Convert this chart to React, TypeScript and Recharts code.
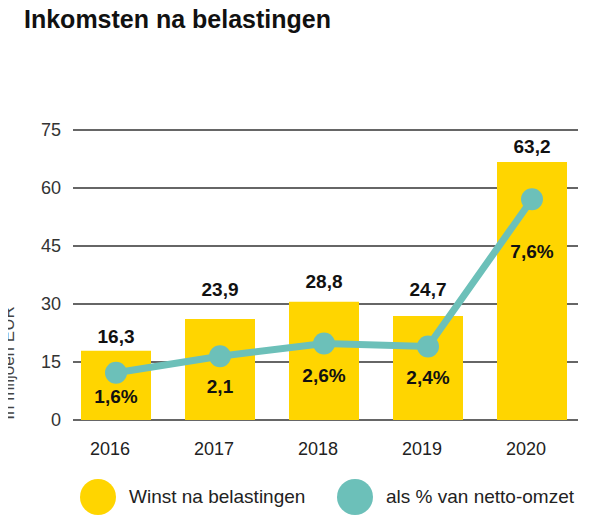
import { ComposedChart, Bar, Line, XAxis, YAxis, CartesianGrid, Legend, LabelList } from 'recharts'

const years = ['2016', '2017', '2018', '2019', '2020']
// bar heights as drawn in the picture (mln EUR)
const winst = [17.9, 26.1, 30.6, 26.9, 66.7]
const winstLabels = ['16,3', '23,9', '28,8', '24,7', '63,2']
// line points as drawn, on the same axis
const aandeel = [12.2, 16.5, 19.8, 19.0, 57.1]
const aandeelLabels = ['1,6%', '2,1', '2,6%', '2,4%', '7,6%']
const yTicks = [0, 15, 30, 45, 60, 75]

const data = years.map((year, i) => ({
  year,
  winst: winst[i],
  winstLabel: winstLabels[i],
  aandeel: aandeel[i],
  aandeelLabel: aandeelLabels[i],
}))

const YELLOW = '#FFD500'
const TEAL = '#6CC0B9'
const FONT = '"Liberation Sans", Arial, sans-serif'

// label spacing in px, per bar / point
const barLabelGap = [8, 23, 14, 20, 9]
const pctLabelGap = [30, 37, 39, 37, 59]

const legendLeft = [80, 337]

function BarValueLabel(props: any) {
  const { x, y, width, value, index } = props
  return (
    <text x={x + width / 2} y={y - barLabelGap[index ?? 0]} textAnchor="middle"
      fontFamily={FONT} fontSize={19} fontWeight="bold" fill="#111">
      {value}
    </text>
  )
}

function PctLabel(props: any) {
  const { x, y, value, index } = props
  return (
    <text x={x} y={y + pctLabelGap[index ?? 0]} textAnchor="middle"
      fontFamily={FONT} fontSize={19} fontWeight="bold" fill="#111">
      {value}
    </text>
  )
}

function AxisTitle(props: any) {
  const { viewBox } = props
  const x = viewBox.x + 14
  const y = viewBox.y + 233
  return (
    <text x={x} y={y} transform={`rotate(-90 ${x} ${y})`} textAnchor="middle"
      fontFamily={FONT} fontSize={17} fill="#444">
      In miljoen EUR
    </text>
  )
}

function LegendContent(props: any) {
  const { payload } = props
  return (
    <div style={{ position: 'relative', width: 598, height: 36 }}>
      {(payload || []).map((p: any, i: number) => (
        <div key={p.value} style={{ position: 'absolute', left: legendLeft[i], top: 0, display: 'flex', alignItems: 'center', height: 36 }}>
          <span style={{ width: 36, height: 36, borderRadius: 18, background: p.color, display: 'inline-block' }} />
          <span style={{ marginLeft: 13, fontFamily: FONT, fontSize: 19, color: '#222', whiteSpace: 'nowrap' }}>{p.value}</span>
        </div>
      ))}
    </div>
  )
}

export default function App() {
  return (
    <div style={{ position: 'relative', width: 598, height: 516, margin: '-8px 0 0 -8px', background: '#fff' }}>
      <div style={{ position: 'absolute', left: 24, top: 5, fontFamily: FONT, fontWeight: 'bold', fontSize: 25, color: '#111' }}>
        Inkomsten na belastingen
      </div>
      <ComposedChart width={598} height={516} data={data}
        margin={{ top: 130, right: 20, bottom: 66, left: 0 }}>
        <CartesianGrid vertical={false} stroke="#333" strokeWidth={1.5} />
        <XAxis dataKey="year" height={30} axisLine={false} tickLine={false} tickSize={0} tickMargin={22}
          padding={{ left: -9, right: -6 }} dx={-6}
          tick={{ fill: '#222', fontSize: 18, fontFamily: FONT }} />
        <YAxis width={73} domain={[0, 75]} ticks={yTicks} axisLine={false} tickLine={false} tickSize={0} tickMargin={12}
          tick={{ fill: '#333', fontSize: 18, fontFamily: FONT }} label={<AxisTitle />} />
        <Legend layout="horizontal" verticalAlign="middle" align="center"
          wrapperStyle={{ position: 'absolute', left: 0, top: 479, width: 598, height: 36 }}
          content={<LegendContent />} />
        <Bar dataKey="winst" name="Winst na belastingen" fill={YELLOW} barSize={70} isAnimationActive={false}>
          <LabelList dataKey="winstLabel" content={<BarValueLabel />} />
        </Bar>
        <Line dataKey="aandeel" name="als % van netto-omzet" stroke={TEAL} strokeWidth={7}
          dot={{ r: 11, fill: TEAL, stroke: 'none' }} activeDot={false} isAnimationActive={false}>
          <LabelList dataKey="aandeelLabel" content={<PctLabel />} />
        </Line>
      </ComposedChart>
    </div>
  )
}
